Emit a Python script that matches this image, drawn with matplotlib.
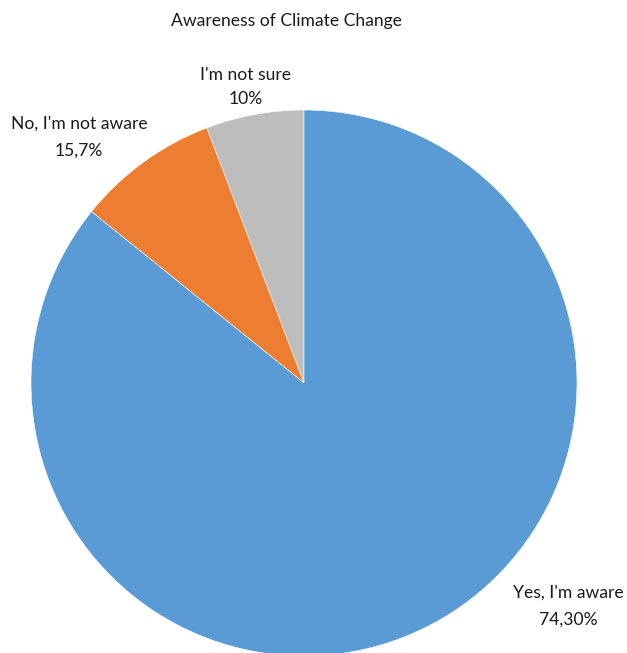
import matplotlib.pyplot as plt

plt.rcParams['font.family'] = ['Lato', 'DejaVu Sans']

# slices as drawn (counter-clockwise from 12 o'clock)
categories = ["I'm not sure", "No, I'm not aware", "Yes, I'm aware"]
shares = [5.8, 8.4, 85.8]
pct_labels = ["10%", "15,7%", "74,30%"]
colors = ['#BDBDBD', '#ED7D31', '#5B9BD5']

W, H = 627, 653
fig = plt.figure(figsize=(W / 100, H / 100), dpi=100)

# pie centre (304, 383) px, radius 273 px
cx, cy, r = 304, 383, 273
ax = fig.add_axes([(cx - r) / W, (H - cy - r) / H, 2 * r / W, 2 * r / H])
wedges, _ = ax.pie(shares, colors=colors, startangle=90, counterclock=True,
                   radius=1, wedgeprops=dict(edgecolor='white', linewidth=0.4))
for w in wedges:
    w.set_clip_on(False)
ax.set_xlim(-1, 1)
ax.set_ylim(-1, 1)
ax.axis('off')

fs = 12.6
fig.text(286 / W, 1 - 21 / H, 'Awareness of Climate Change', ha='center', va='center',
         fontsize=fs, color='#1a1a1a')

label_pos = [(246, 75, 99), (79, 124, 151), (568, 593, 620)]
for name, pct, (x, y1, y2) in zip(categories, pct_labels, label_pos):
    fig.text(x / W, 1 - y1 / H, name, ha='center', va='center', fontsize=fs, color='#1a1a1a')
    fig.text(x / W, 1 - y2 / H, pct, ha='center', va='center', fontsize=fs, color='#1a1a1a')

plt.savefig('out.png', dpi=100)
